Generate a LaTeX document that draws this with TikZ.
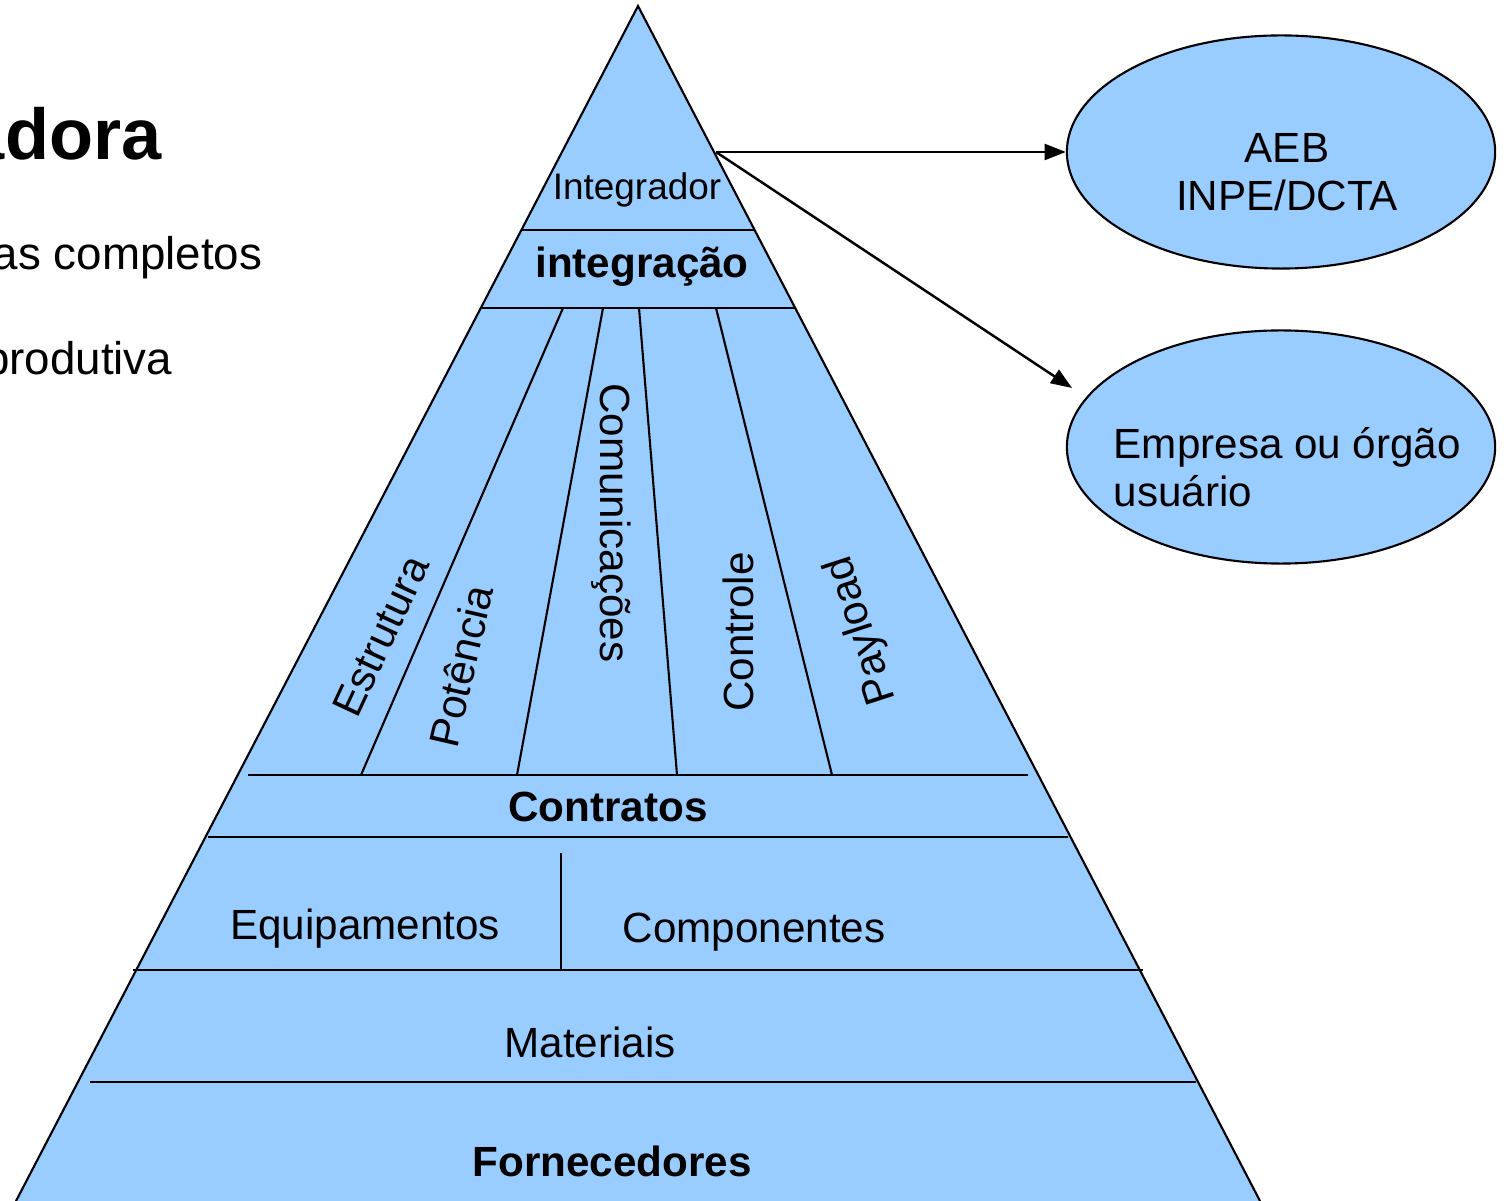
\documentclass[tikz,border=0pt]{standalone}
\usepackage{fontspec}
\setmainfont{Liberation Sans}
\usetikzlibrary{shapes.geometric,arrows.meta}
\definecolor{pyrblue}{RGB}{153,204,255}
\tikzset{
  lbl/.style={inner sep=0pt, font=\fontsize{12}{13.7}\selectfont},
  lblb/.style={inner sep=0pt, font=\fontsize{12}{13.7}\selectfont\bfseries},
  band/.style={line width=0.8pt},
  split/.style={line width=0.6pt},
  org/.style={ellipse, draw, fill=pyrblue, line width=0.6pt, minimum width=4.28cm, minimum height=2.33cm, inner sep=0pt},
  arr/.style={-{Triangle[length=6pt,width=4.5pt]}, line width=0.7pt}
}
\begin{document}
\begin{tikzpicture}[x=0.01cm, y=-0.01cm]
    \useasboundingbox (0,0) rectangle (1504,1201);
    \clip (0,0) rectangle (1504,1201);

    % Slide text, cut at the left edge
    \node[anchor=base east, inner sep=0pt, font=\fontsize{20.5}{24}\selectfont\bfseries] (head) at (162,160) {adora};
    \node[anchor=base east, inner sep=0pt, font=\fontsize{13}{15}\selectfont] (item1) at (263,270) {as completos};
    \node[anchor=base east, inner sep=0pt, font=\fontsize{13}{15}\selectfont] (item2) at (173,375) {produtiva};

    % Pyramid
    \coordinate (apex) at (638,6);
    \coordinate (baseL) at (16,1201);
    \coordinate (baseR) at (1260,1201);
    \fill[pyrblue] (baseL) -- (apex) -- (baseR) -- cycle;
    \draw[split] (baseL) -- (apex) -- (baseR);

        % Horizontal bands
        \draw[band] (521,230) -- (755,230);
        \draw[band] (482,308) -- (795,308);
        \draw[band] (248,775) -- (1028,775);
        \draw[band] (208,837) -- (1068,837);
        \draw[band] (133,970) -- (1143,970);
        \draw[band] (90,1082) -- (1196,1082);

        % Subsystem dividers
        \draw[split] (563,308) -- (361,775);
        \draw[split] (603,308) -- (517,775);
        \draw[split] (639,308) -- (677,775);
        \draw[split] (716,308) -- (832,775);
        \draw[split] (561,853) -- (561,970);

    % Labels in the pyramid
    \node[inner sep=0pt, font=\fontsize{10.5}{12.6}\selectfont] (integrador) at (637,190) {Integrador};
    \node[lblb] (integracao) at (642,267) {integração};
    \node[lbl, rotate=65] (estrutura) at (381,636) {Estrutura};
    \node[lbl, rotate=77] (potencia) at (461,666) {Potência};
    \node[lbl, rotate=-90] (comunic) at (611,523) {Comunicações};
    \node[lbl, rotate=90] (controle) at (738,632) {Controle};
    \node[lbl, rotate=108] (payload) at (862,630) {Payload};
    \node[lblb] (contratos) at (608,807) {Contratos};
    \node[lbl] (equip) at (365,929) {Equipamentos};
    \node[lbl] (compon) at (754,932) {Componentes};
    \node[lbl] (materiais) at (590,1042) {Materiais};
    \node[lblb] (fornec) at (612,1161) {Fornecedores};

    % Organisations
    \node[org] (aeb) at (1281,152) {};
    \node[lbl, align=center] (aebtxt) at (1287,172) {AEB\\INPE/DCTA};
    \node[org] (usuario) at (1281,447) {};
    \node[lbl, align=left, anchor=west] (usutxt) at (1113,467) {Empresa ou órgão\\usuário};

    % Arrows from the integrator
    \coordinate (integ) at (716,152);
    \coordinate (usuin) at (1072,388);
    \draw[arr] (integ) -- (aeb.west);
    \draw[arr] (integ) -- (usuin);
\end{tikzpicture}
\end{document}
